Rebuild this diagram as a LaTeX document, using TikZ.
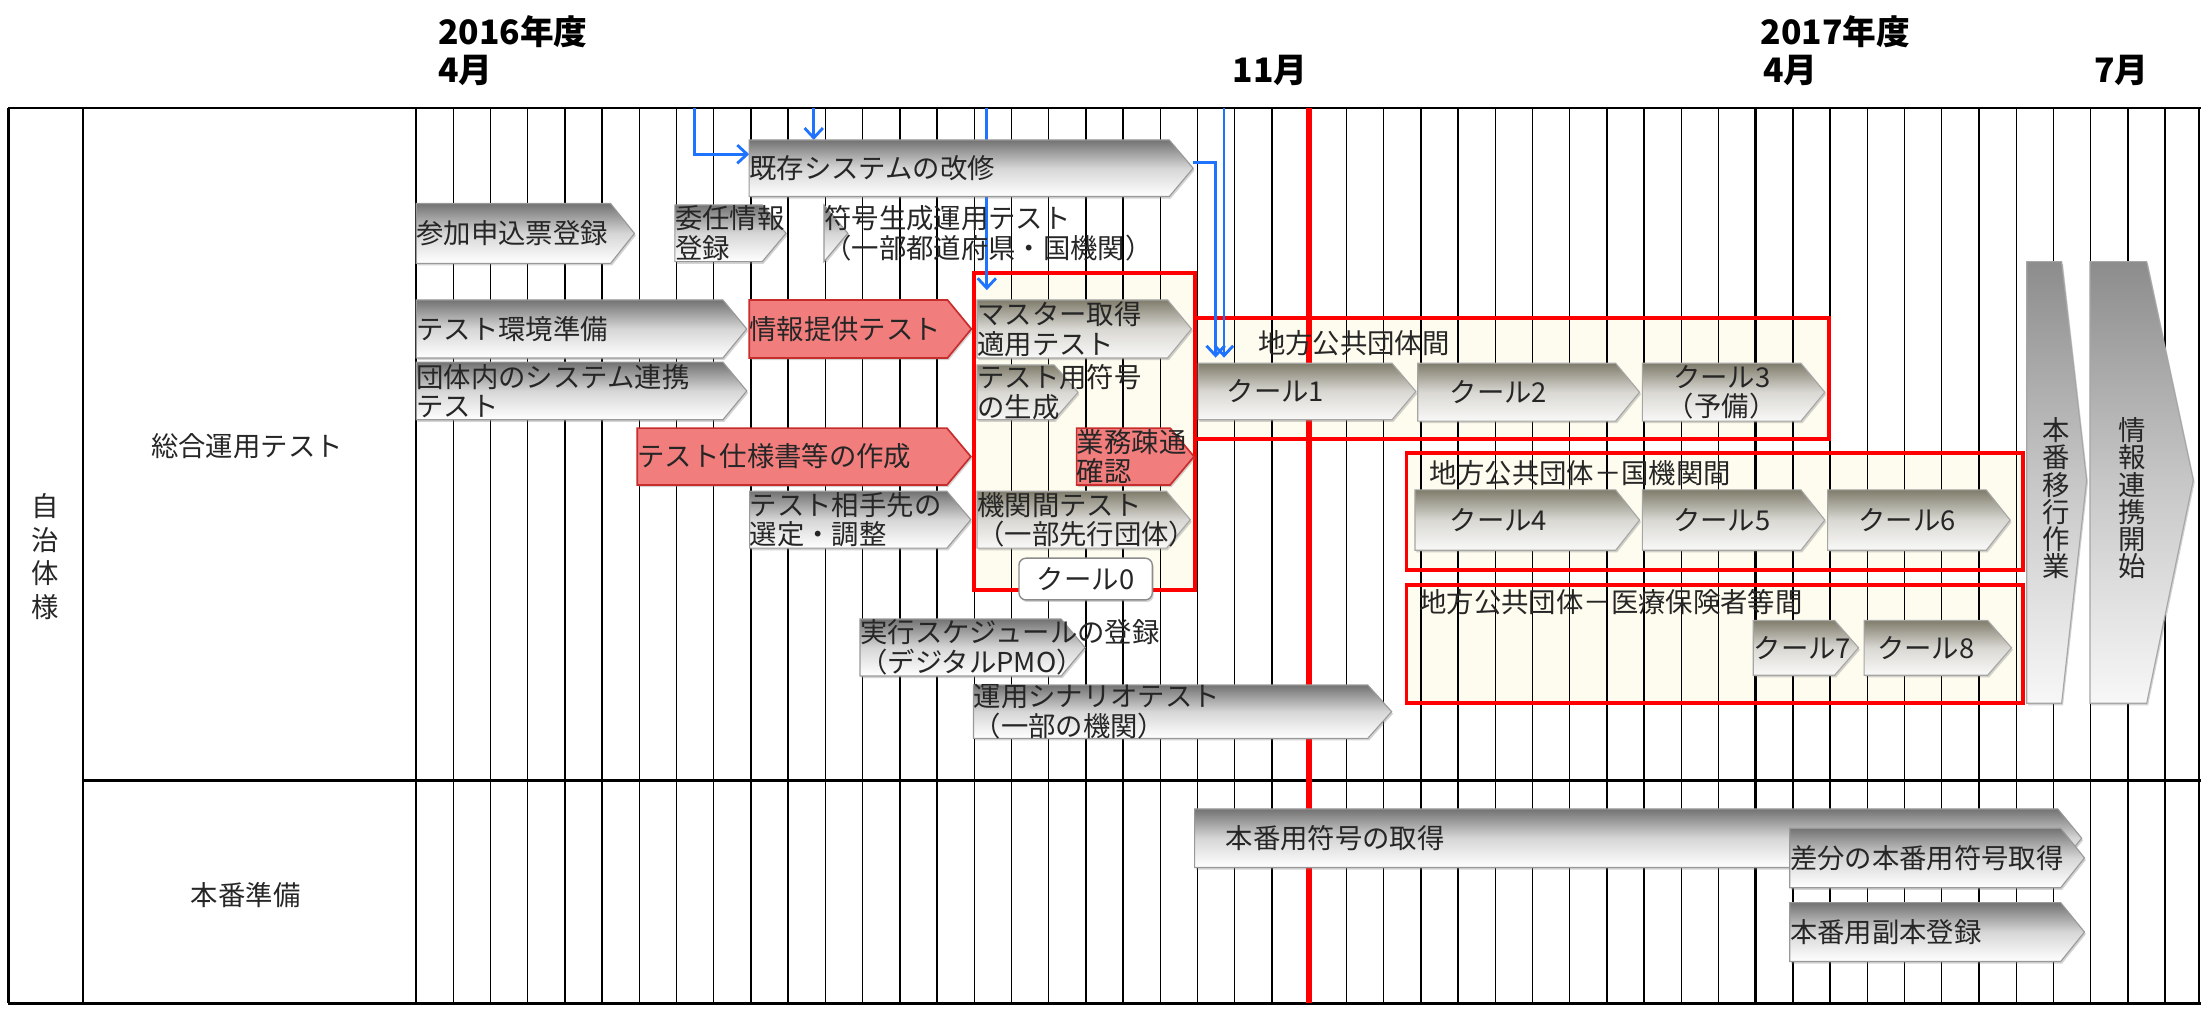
\documentclass[tikz,border=0pt]{standalone}
\usepackage{fontspec}
\setmainfont{Noto Sans CJK JP}
\usepackage{tikz}
\usetikzlibrary{arrows.meta,shadows}

\definecolor{olv}{RGB}{128,125,108}
\definecolor{rfill}{RGB}{242,125,125}
\definecolor{rline}{RGB}{200,45,45}
\definecolor{cream}{RGB}{254,252,238}
\definecolor{flowblue}{RGB}{30,115,255}

\pgfdeclarelayer{back}
\pgfdeclarelayer{flow}
\pgfsetlayers{back,flow,main}

\def\tipw{17}
\newcommand{\chev}[5]{\path[#1] (#2,#4) -- ({#3-\tipw},#4) -- (#3,{(#4+#5)/2}) -- ({#3-\tipw},#5) -- (#2,#5) -- cycle;}
\newcommand{\task}[8][]{%
  \chev{#3}{#4}{#5}{#6}{#7}
  \coordinate (#2-nw) at (#4,#6);
  \coordinate (#2-tip) at (#5,{(#6+#7)/2});
  \node[lbl,#1] (#2) at (#4,{(#6+#7)/2}) {#8};}
\newcommand{\cool}[7][]{%
  \chev{cbar}{#3}{#4}{#5}{#6}
  \coordinate (#2-nw) at (#3,#5);
  \node[lbl,anchor=center,align=center,#1] (#2) at ({(#3+#4-\tipw)/2},{(#5+#6)/2}) {#7};}

\begin{document}
\begin{tikzpicture}[x=1pt,y=-1pt,
  lbl/.style={anchor=west,inner sep=0pt,text=black!85,align=left,font=\fontsize{19.5}{21}\selectfont},
  hdr/.style={anchor=west,inner sep=0pt,font=\bfseries\fontsize{24}{24}\selectfont},
  row/.style={lbl,anchor=center,align=center},
  shd/.style={drop shadow={shadow xshift=1pt,shadow yshift=-1.5pt,opacity=.35}},
  gbar/.style={shd,draw=black!40,line width=.8pt,top color=black!55,bottom color=white,middle color=black!16},
  cbar/.style={shd,draw=black!35,line width=.8pt,top color=olv,bottom color=olv!5!white,middle color=olv!30!white},
  rbar/.style={shd,draw=rline,line width=1.2pt,fill=rfill},
  vbar/.style={shd,draw=black!35,line width=.8pt,top color=black!45,bottom color=black!3,middle color=black!22},
  gridline/.style={black,line width=1pt},
  frame/.style={black,line width=2pt},
  grp/.style={red,line width=2.8pt},
  flow/.style={flowblue,line width=2pt,-{Straight Barb[length=7pt,width=13pt]}}]
\useasboundingbox (0,0) rectangle (1568,718.1);

\begin{pgfonlayer}{back}
\foreach \xa/\ya/\xb/\yb in {694/194.7/851.5/420,851.2/226.8/1303/313,1002/323/1441/406,1002/417/1441/501}
  \fill[cream] (\xa,\ya) rectangle (\xb,\yb);
\foreach \k in {0,...,47}
  \draw[gridline] ({296.4+26.51*\k},77) -- ({296.4+26.51*\k},714.6);
\draw[gridline] (1566.5,77) -- (1566.5,714.6);
\draw[frame] (296.4,77) -- (296.4,714.6);
\draw[frame] (1250.8,77) -- (1250.8,714.6);
\draw[frame] (6,77) -- (1568,77);
\draw[frame] (6,714.6) -- (1568,714.6);
\draw[frame] (59,556) -- (1568,556);
\draw[frame] (6,77) -- (6,714.6);
\draw[gridline,line width=1.5pt] (59,77) -- (59,714.6);
\foreach \xa/\ya/\xb/\yb in {694/194.7/851.5/420,851.2/226.8/1303/313,1002/323/1441/406,1002/417/1441/501}
  \draw[grp] (\xa,\ya) rectangle (\xb,\yb);
\draw[red,line width=4.5pt] (932.3,77) -- (932.3,714.6);
\end{pgfonlayer}

\node[hdr] (fy16) at (312,22.6) {2016年度};
\node[hdr] (apr16) at (312,50.5) {4月};
\node[hdr] (nov16) at (878,50.5) {11月};
\node[hdr] (fy17) at (1254,22.6) {2017年度};
\node[hdr] (apr17) at (1256,50.5) {4月};
\node[hdr] (jul17) at (1491.6,50.5) {7月};

\node[row,font=\fontsize{19.5}{24}\selectfont] (jichi) at (32,396.5) {自\\治\\体\\様};
\node[row] (sogo) at (176,318) {総合運用テスト};
\node[row] (junbi) at (175,637.6) {本番準備};

\task{kaishu}{gbar}{533.7}{850}{99.7}{140}{既存システムの改修}
\task{sanka}{gbar}{296.5}{452}{145}{187.6}{参加申込票登録}
\task{inin}{gbar}{480.8}{560}{146}{186.4}{委任情報\\登録}
\task{fugo}{gbar}{587}{604}{146}{186.4}{符号生成運用テスト\\（一部都道府県・国機関）}
\task{kankyo}{gbar}{296.5}{532}{213.7}{255}{テスト環境準備}
\task{teikyo}{rbar}{533.7}{692}{213.7}{255}{情報提供テスト}
\task{renkei}{gbar}{296.5}{532}{258}{299}{団体内のシステム連携\\テスト}
\task{shiyo}{rbar}{454}{691.6}{305}{345.5}{テスト仕様書等の作成}
\task{aite}{gbar}{534}{691.6}{350}{390.5}{テスト相手先の\\選定・調整}
\task{master}{cbar}{696}{848.8}{213.7}{255}{マスター取得\\適用テスト}
\task{testfugo}{cbar}{696}{768}{260}{299}{テスト用符号\\の生成}
\task{sotsu}{rbar}{767}{850.6}{305}{345.5}{業務疎通\\確認}
\task{kikan}{cbar}{696}{848}{350}{390.5}{機関間テスト\\（一部先行団体）}
\task{jikko}{gbar}{612.7}{773}{441}{481.6}{実行スケジュールの登録\\（デジタルPMO）}
\task{scenario}{gbar}{693.5}{991.4}{488}{526}{運用シナリオテスト\\（一部の機関）}
\node[lbl,shd,draw=black!45,line width=1pt,fill=white,rounded corners=5pt,anchor=center,
  minimum width=95pt,minimum height=29.7pt] (cool0) at (773.4,412.5) {クール0};

\node[lbl] (grp1) at (896,244.6) {地方公共団体間};
\node[lbl] (grp2) at (1018.5,337) {地方公共団体－国機関間};
\node[lbl] (grp3) at (1011,428.6) {地方公共団体－医療保険者等間};
\cool[xshift=-14pt]{cool1}{853.5}{1008.7}{258.8}{299}{クール1}
\cool[xshift=-13pt]{cool2}{1010}{1168}{258.8}{300}{クール2}
\cool{cool3}{1170}{1300}{258.8}{300}{クール3\\（予備）}
\cool[xshift=-12pt]{cool4}{1008}{1168}{349}{392}{クール4}
\cool{cool5}{1170}{1300}{349}{392}{クール5}
\cool{cool6}{1302}{1432}{349}{392}{クール6}
\cool[xshift=6pt]{cool7}{1249}{1324}{442}{481}{クール7}
\cool{cool8}{1328}{1433}{442}{481}{クール8}

\path[vbar] (1443.8,186.4) -- (1468.7,186.4) -- (1486.5,342) -- (1468.7,501) -- (1443.8,501) -- cycle;
\node[row,font=\fontsize{19.5}{19.4}\selectfont] (ikou) at (1465,355) {本\\番\\移\\行\\作\\業};
\path[vbar] (1488.9,186.4) -- (1529.3,186.4) -- (1562.5,342) -- (1529.3,501) -- (1488.9,501) -- cycle;
\node[row,font=\fontsize{19.5}{19.4}\selectfont] (kaishi) at (1518.6,355) {情\\報\\連\\携\\開\\始};

\task[xshift=22pt]{honban}{gbar}{851}{1483}{576.3}{618}{本番用符号の取得}
\task{sabun}{gbar}{1275}{1485}{590}{632.4}{差分の本番用符号取得}
\task{fuhon}{gbar}{1275}{1485}{643}{685}{本番用副本登録}

\begin{pgfonlayer}{flow}
\coordinate (a1) at (494.8,77);
\coordinate (a2) at (579.7,77);
\coordinate (a3) at (703,77);
\coordinate (a4) at (872,77);
\coordinate (d1) at (866,77);
\draw[flow] (a1) |- ([yshift=10pt]kaishu.west);
\draw[flow] (a2) -- (a2 |- kaishu-nw);
\draw[flow] (a3) -- ([yshift=7pt]a3 |- master-nw);
\draw[flow] ([yshift=4pt]kaishu-tip) -| ([yshift=4pt]d1 |- cool1-nw);
\draw[flow] (a4) -- ([yshift=4pt]a4 |- cool1-nw);
\end{pgfonlayer}
\end{tikzpicture}
\end{document}
